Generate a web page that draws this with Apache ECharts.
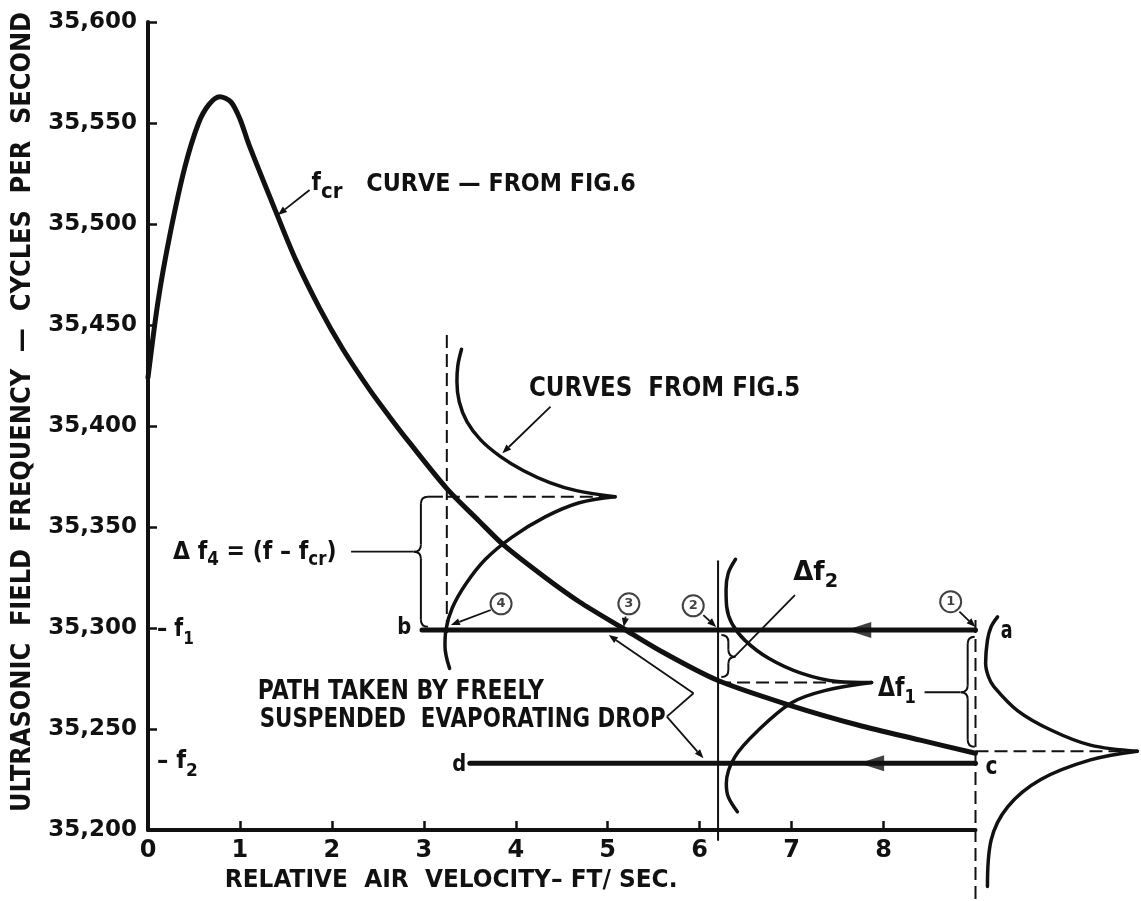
<!DOCTYPE html>
<html><head><meta charset="utf-8">
<script src="https://cdn.jsdelivr.net/npm/echarts@6/dist/echarts.min.js"></script>
<style>html,body{margin:0;padding:0;background:#fff}#c{width:1141px;height:901px}</style>
</head><body><div id="c"></div>
<script>
// ------------------------- DATA -------------------------
const xTickLabels = [0, 1, 2, 3, 4, 5, 6, 7, 8];
const yTickValues = [35200, 35250, 35300, 35350, 35400, 35450, 35500, 35550, 35600];
const xAxisSpan = [[0, 35200], [9, 35200]];   // drawn extent of the velocity axis

// f_cr curve (from Fig. 6)
const fcrX = [0, 0.11, 0.24, 0.40, 0.55, 0.66, 0.78, 0.90, 1.00, 1.10, 1.40, 1.61, 1.87, 2.12, 2.41, 2.62, 2.84, 3.25, 3.60, 3.87, 4.32, 4.69, 5.16, 5.60, 6.20, 7.00, 7.72, 8.40, 9.00];
const fcrY = [35424, 35462, 35495, 35528, 35550, 35559, 35563, 35560.5, 35552, 35539, 35505, 35482, 35458, 35438, 35418, 35405, 35392, 35369, 35353, 35341, 35325, 35313, 35300, 35288, 35274, 35261.5, 35252, 35244.5, 35238];

// curves from Fig. 5 (cusp pairs)
const fig5Curve1Upper = [[3.41,35438],[3.37,35430],[3.36,35422],[3.385,35412],[3.47,35402],[3.62,35393],[3.83,35385],[4.08,35378],[4.37,35372],[4.66,35368],[5.08,35365]];
const fig5Curve1Lower = [[5.08,35365],[4.69,35362],[4.32,35355],[3.96,35345],[3.67,35334],[3.46,35322],[3.31,35310],[3.24,35299],[3.23,35291],[3.28,35280]];
const fig5Curve2Upper = [[6.39,35334],[6.31,35327],[6.287,35319],[6.294,35310.5],[6.35,35302.3],[6.49,35294],[6.75,35285],[7.11,35277.5],[7.50,35273.5],[7.87,35273]];
const fig5Curve2Lower = [[7.87,35273],[7.36,35269],[7.00,35263],[6.64,35249.5],[6.38,35236],[6.29,35223],[6.31,35216.5],[6.41,35209]];
const fig5Curve3Upper = [[9.24,35305.5],[9.17,35300.6],[9.13,35294],[9.11,35282.5],[9.14,35276],[9.20,35271],[9.46,35259],[9.82,35249.5],[10.25,35242],[10.76,35239]];
const fig5Curve3Lower = [[10.76,35239],[10.25,35234.7],[9.71,35225],[9.35,35211.5],[9.17,35195],[9.13,35172]];

// guide lines
const dashV1 = [[3.25,35445],[3.25,35296]];
const dashH1 = [[3.25,35365],[5.08,35365]];
const lineV2 = [[6.20,35333],[6.20,35195]];
const dashH2 = [[6.20,35273],[7.87,35273]];
const dashV3 = [[9.00,35304],[9.00,35160]];
const dashH3 = [[9.00,35239],[10.76,35239]];

// path of the drop
const pathAB = [[9.00,35299],[2.98,35299]];
const pathCD = [[9.00,35233],[3.50,35233]];
const pathArrowHeads = [[7.73,35299],[7.87,35233]];
const stepMarkers = [[8.73,35313],[5.93,35311],[5.23,35312],[3.84,35312]];
const stepLabels = ['1','2','3','4'];

// annotation geometry (data units)
const pointerArrows = [
  [1.757,35516.8,1.413,35504.5],
  [4.378,35409.6,3.854,35386.5],
  [8.825,35308.1,9.000,35300.5],
  [6.040,35306.4,6.180,35300.5],
  [5.195,35305.6,5.174,35300.5],
  [3.728,35308.9,3.294,35301.5],
  [5.933,35267.7,5.011,35296.5],
  [5.643,35256.1,6.041,35235.5]
];
const plainSegments = [
  [2.209,35337.8,2.890,35337.8],
  [7.036,35316.3,6.380,35285.8],
  [8.446,35268.2,8.835,35268.2],
  [5.643,35256.1,5.933,35267.7]
];
// braces: x, yTop, yBottom, yMid, nub direction (-1 left, +1 right), top extension (data x)
const braces = [
  [2.968,35365.0,35300.6,35337.8,-1,0.24],
  [6.312,35296.5,35275.7,35285.8, 1,0],
  [8.915,35295.7,35241.2,35268.2,-1,0]
];

// ------------------------- CHART -------------------------
const FONT = '"DejaVu Sans", "Noto Sans", sans-serif';
const INK = '#111';
const chart = echarts.init(document.getElementById('c'), null, {renderer:'canvas', width:1141, height:901});

function lineSeries(data, width, type, smooth, z) {
  return {type:'line', data, showSymbol:false, symbol:'none', smooth: smooth || false, clip:false,
    silent:true, animation:false, z: z || 2,
    lineStyle:{color:INK, width, type: type || 'solid', cap: type ? 'butt' : 'round', join:'round'}};
}

const series = [
  lineSeries(xAxisSpan, 4, null, false, 1),
  lineSeries(fcrX.map((x,i)=>[x, fcrY[i]]), 5, null, 0.3, 3),
  lineSeries(fig5Curve1Upper, 3.5, null, 0.35),
  lineSeries(fig5Curve1Lower, 3.5, null, 0.35),
  lineSeries(fig5Curve2Upper, 3.5, null, 0.35),
  lineSeries(fig5Curve2Lower, 3.5, null, 0.35),
  lineSeries(fig5Curve3Upper, 3.5, null, 0.35),
  lineSeries(fig5Curve3Lower, 3.5, null, 0.35),
  lineSeries(dashV1, 2, [13,6]),
  lineSeries(dashH1, 2, [13,6]),
  lineSeries(lineV2, 2),
  lineSeries(dashH2, 2, [13,6]),
  lineSeries(dashV3, 2, [13,6]),
  lineSeries(dashH3, 2, [13,6]),
  lineSeries(pathAB, 5, null, false, 3),
  lineSeries(pathCD, 5, null, false, 3),
  {type:'scatter', data: pathArrowHeads, symbol:'triangle', symbolSize:[16,25], symbolRotate:90,
   itemStyle:{color:INK}, silent:true, animation:false, clip:false, z:4},
  {type:'scatter', data: stepMarkers, symbol:'circle', symbolSize:21, silent:true, animation:false, clip:false, z:5,
   itemStyle:{color:'#fff', borderColor:INK, borderWidth:2},
   label:{show:true, position:'inside', formatter:p=>stepLabels[p.dataIndex], color:INK,
     fontFamily:FONT, fontWeight:'bold', fontSize:13}}
];

// 9 velocity units span 830 px (x = 0 at 148 px, x = 9 at 978 px); axis runs on to 10.8 for the right-hand cusp
chart.setOption({
  animation:false,
  backgroundColor:'#fff',
  grid:{left:148, top:22, bottom:71, width:996, containLabel:false},
  xAxis:{type:'value', min:0, max:10.8, interval:1,
    axisLine:{show:false, onZero:false},
    axisTick:{show:true, inside:true, length:9, lineStyle:{color:INK, width:2.5},
      customValues: xTickLabels.filter(v=>v>0)},
    axisLabel:{customValues: xTickLabels, formatter: v => xTickLabels.includes(v) ? String(v) : '',
      fontFamily:FONT, fontWeight:'bold', fontSize:24, color:INK, margin:9},
    splitLine:{show:false}},
  yAxis:{type:'value', min:35200, max:35600, interval:50,
    axisLine:{show:true, onZero:false, lineStyle:{color:INK, width:4}},
    axisTick:{show:true, inside:true, length:9, lineStyle:{color:INK, width:2.5}, customValues: yTickValues},
    axisLabel:{customValues: yTickValues, formatter: v => Number(v).toLocaleString('en-US'),
      fontFamily:FONT, fontWeight:'bold', fontSize:23, color:INK, margin:11},
    splitLine:{show:false}},
  series
});

// ------------------------- ANNOTATIONS -------------------------
const P = (x, y) => chart.convertToPixel({gridIndex:0}, [x, y]);
const mctx = document.createElement('canvas').getContext('2d');
function measure(t, s) { mctx.font = 'bold ' + s + 'px ' + FONT; return mctx.measureText(t).width; }

function pieceChildren(pieces) {
  let acc = 0; const children = [];
  for (const [t, s, dy] of pieces) {
    children.push({type:'text', x:acc, y:dy || 0, silent:true,
      style:{text:t, font:'bold ' + s + 'px ' + FONT, fill:INK, align:'left', verticalAlign:'middle'}});
    acc += measure(t, s);
  }
  return {children, acc};
}
function fitLabel(pieces, leftX, cyY, rightX) {
  const a = P(leftX, cyY), b = P(rightX, cyY);
  const {children, acc} = pieceChildren(pieces);
  return {type:'group', x:a[0], y:a[1], scaleX:(b[0]-a[0]) / acc, children, silent:true};
}
function fitVertical(pieces, cx, y0, y1) {
  const a = P(cx, y0), b = P(cx, y1);
  const {children, acc} = pieceChildren(pieces);
  return {type:'group', x:a[0], y:a[1], rotation:Math.PI/2, scaleX:(a[1]-b[1]) / acc, children, silent:true};
}
function arrow(p0, p1, lw, hl, hw) {
  const dx = p1[0]-p0[0], dy = p1[1]-p0[1], L = Math.hypot(dx, dy), ux = dx/L, uy = dy/L;
  const bx = p1[0]-ux*hl, by = p1[1]-uy*hl;
  return [
    {type:'line', silent:true, shape:{x1:p0[0], y1:p0[1], x2:bx, y2:by}, style:{stroke:INK, lineWidth:lw}},
    {type:'polygon', silent:true, shape:{points:[[p1[0],p1[1]],[bx-uy*hw, by+ux*hw],[bx+uy*hw, by-ux*hw]]}, style:{fill:INK}}
  ];
}
function brace(x, yT, yB, yM, dir, ext) {
  const t = P(x, yT), bt = P(x, yB), m = P(x, yM);
  const X = t[0], y1 = t[1], y2 = bt[1], ym = m[1], r = 7, e = -dir;
  const extPx = ext ? (P(x + ext, yT)[0] - X) : r;
  const st = {stroke:INK, lineWidth:2, fill:null};
  const seg = (x1,y1_,x2,y2_) => ({type:'line', silent:true, shape:{x1, y1:y1_, x2, y2:y2_}, style:st});
  const bz = (x1,y1_,x2,y2_,cx,cy) => ({type:'bezierCurve', silent:true, shape:{x1, y1:y1_, x2, y2:y2_, cpx1:cx, cpy1:cy}, style:st});
  return [
    seg(X + e*Math.max(extPx, r), y1, X + e*r, y1),
    bz(X + e*r, y1, X, y1 + r, X, y1),
    seg(X, y1 + r, X, ym - r),
    bz(X, ym - r, X + dir*r, ym, X, ym),
    bz(X + dir*r, ym, X, ym + r, X, ym),
    seg(X, ym + r, X, y2 - r),
    bz(X, y2 - r, X + e*r, y2, X, y2)
  ];
}

const g = [];
pointerArrows.forEach(a => g.push(...arrow(P(a[0],a[1]), P(a[2],a[3]), 1.8, 9, 3.5)));
plainSegments.forEach(a => {
  const p = P(a[0],a[1]), q = P(a[2],a[3]);
  g.push({type:'line', silent:true, shape:{x1:p[0], y1:p[1], x2:q[0], y2:q[1]}, style:{stroke:INK, lineWidth:1.8}});
});
braces.forEach(b => g.push(...brace(b[0], b[1], b[2], b[3], b[4], b[5])));

// text annotations
g.push(fitLabel([['f',24,0],['cr',22,8]], 1.779, 35519.8, 2.115));
g.push(fitLabel([['CURVE — FROM FIG.6',25,0]], 2.375, 35519.8, 5.304));
g.push(fitLabel([['CURVES  FROM FIG.5',27,0]], 4.143, 35418.3, 7.093));
g.push(fitLabel([['Δ f',25,0],['4',19,8],[' = (f – f',25,0],['cr',19,8],[')',25,0]], 0.271, 35337.6, 2.050));
g.push(fitLabel([['– f',24,0],['1',18,9]], 0.098, 35299.0, 0.499));
g.push(fitLabel([['– f',24,0],['2',18,9]], 0.098, 35233.7, 0.542));
g.push(fitLabel([['b',23,0]], 2.711, 35300.0, 2.863));
g.push(fitLabel([['d',23,0]], 3.308, 35232.2, 3.460));
g.push(fitLabel([['a',24,0]], 9.275, 35298.0, 9.404));
g.push(fitLabel([['c',24,0]], 9.110, 35230.7, 9.241));
g.push(fitLabel([['Δf',27,0],['2',20,9]], 7.017, 35327.2, 7.505));
g.push(fitLabel([['Δf',27,0],['1',20,9]], 7.939, 35269.8, 8.351));
g.push(fitLabel([['PATH TAKEN BY FREELY',27,0]], 1.193, 35268.3, 4.306));
g.push(fitLabel([['SUSPENDED  EVAPORATING DROP',27,0]], 1.215, 35254.5, 5.629));
g.push(fitLabel([['RELATIVE  AIR  VELOCITY– FT/ SEC.',25,0]], 0.835, 35175.2, 5.759));
g.push(fitVertical([['ULTRASONIC  FIELD  FREQUENCY  —  CYCLES  PER  SECOND',27,0]], -1.356, 35208.9, 35605.0));

chart.setOption({graphic: g});
</script></body></html>
